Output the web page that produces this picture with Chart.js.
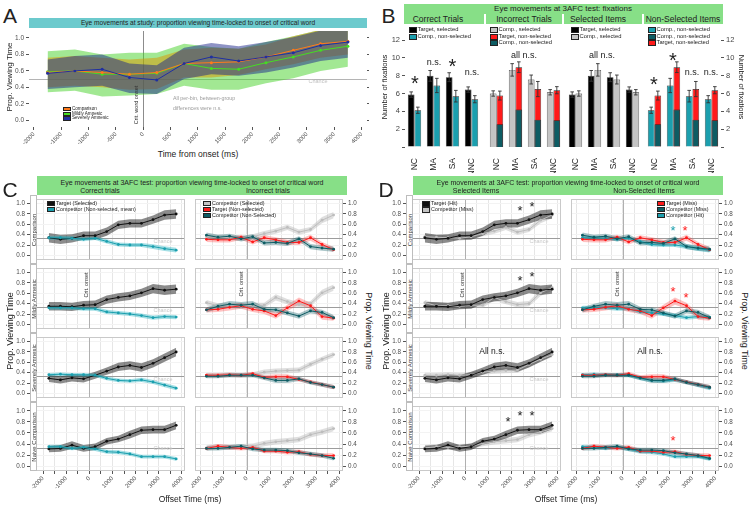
<!DOCTYPE html>
<html>
<head>
<meta charset="utf-8">
<title>Eye movements</title>
<script src="https://cdn.jsdelivr.net/npm/chart.js@4.4.1/dist/chart.umd.min.js"></script>
<style>
  html, body { margin: 0; padding: 0; background: #fff; }
  #fig { position: relative; width: 750px; height: 508px; overflow: hidden;
         font-family: "Liberation Sans", Arial, sans-serif; color: #222; }
  #fig canvas { position: absolute; }
  .t { position: absolute; white-space: nowrap; line-height: 1; }
  .box { position: absolute; }
  .lg { position: absolute; line-height: 1; color: #222; white-space: nowrap; }
  .lg .sw { position: absolute; box-sizing: border-box; border: 0.7px solid #222; }
  .lg .tx { position: absolute; }
</style>
</head>
<body>
<div id="fig"></div>
<script>
// ---------- data ----------
const TIME = [-1750, -1250, -750, -250, 250, 750, 1250, 1750, 2250, 2750, 3250, 3750];
const TIME_TICKS = [-2000, -1500, -1000, -500, 0, 500, 1000, 1500, 2000, 2500, 3000, 3500, 4000];
const PROP_TICKS = [0, 0.2, 0.4, 0.6, 0.8, 1.0];
const FIX_TICKS = [0, 2, 4, 6, 8, 10, 12];
const GROUPS = ['NC', 'MA', 'SA', 'NNC'];
const ROWS = ['Comparison', 'Mildly Amnesic', 'Severely Amnesic', 'Naive Comparison'];

// A: study phase (mean and ribbon limits)
const studyComparison   = [0.58, 0.60, 0.58, 0.56, 0.58, 0.69, 0.70, 0.71, 0.77, 0.85, 0.93, 0.96];
const studyComparisonLo = [0.40, 0.42, 0.40, 0.37, 0.38, 0.52, 0.52, 0.55, 0.62, 0.68, 0.76, 0.80];
const studyComparisonHi = [0.76, 0.78, 0.76, 0.74, 0.76, 0.86, 0.88, 0.87, 0.92, 1.02, 1.10, 1.12];
const studyMild   = [0.59, 0.60, 0.56, 0.56, 0.57, 0.69, 0.63, 0.62, 0.70, 0.77, 0.85, 0.90];
const studyMildLo = [0.34, 0.36, 0.29, 0.30, 0.32, 0.42, 0.37, 0.37, 0.45, 0.51, 0.60, 0.65];
const studyMildHi = [0.84, 0.86, 0.80, 0.82, 0.82, 0.93, 0.89, 0.87, 0.95, 1.02, 1.10, 1.15];
const studySevere   = [0.57, 0.60, 0.62, 0.52, 0.49, 0.69, 0.77, 0.72, 0.77, 0.82, 0.91, 0.95];
const studySevereLo = [0.38, 0.40, 0.42, 0.33, 0.32, 0.50, 0.56, 0.54, 0.58, 0.64, 0.72, 0.76];
const studySevereHi = [0.74, 0.78, 0.80, 0.69, 0.67, 0.88, 0.94, 0.90, 0.95, 1.01, 1.09, 1.13];

// B: number of fixations (NC, MA, SA, NNC)
const targetSelectedFix = [5.88, 7.98, 7.83, 6.44];
const targetSelectedErr = [0.30, 0.60, 0.50, 0.30];
const compNonSelectedMeanFix = [4.12, 6.90, 5.70, 5.36];
const compNonSelectedMeanErr = [0.35, 0.80, 0.65, 0.40];
const compSelectedFix = [6.00, 8.65, 7.57, 6.14];
const compSelectedErr = [0.30, 0.70, 0.50, 0.30];
const targetNonSelectedFix = [5.77, 8.95, 6.50, 6.37];
const targetNonSelectedErr = [0.50, 0.60, 0.85, 0.40];
const compNonSelectedFix = [2.55, 4.20, 3.07, 3.00];

// C / D: proportion viewing time, one list per row (Comparison, Mildly, Severely, Naive)
const targetSelected = [
  [0.34, 0.31, 0.33, 0.38, 0.38, 0.46, 0.59, 0.62, 0.62, 0.69, 0.78, 0.80],
  [0.35, 0.35, 0.34, 0.37, 0.38, 0.48, 0.52, 0.55, 0.61, 0.69, 0.66, 0.68],
  [0.29, 0.26, 0.30, 0.28, 0.35, 0.43, 0.51, 0.54, 0.50, 0.58, 0.69, 0.80],
  [0.31, 0.32, 0.38, 0.32, 0.35, 0.45, 0.49, 0.57, 0.65, 0.66, 0.66, 0.74]
];
const targetSelectedSe = [
  [0.09, 0.09, 0.08, 0.08, 0.08, 0.08, 0.08, 0.08, 0.08, 0.08, 0.09, 0.09],
  [0.08, 0.08, 0.08, 0.08, 0.08, 0.08, 0.08, 0.08, 0.08, 0.09, 0.09, 0.09],
  [0.07, 0.07, 0.07, 0.07, 0.07, 0.07, 0.08, 0.08, 0.08, 0.08, 0.08, 0.08],
  [0.06, 0.06, 0.07, 0.06, 0.06, 0.06, 0.06, 0.07, 0.07, 0.07, 0.07, 0.07]
];
const compNonSelectedMean = [
  [0.34, 0.34, 0.33, 0.31, 0.33, 0.27, 0.21, 0.20, 0.20, 0.17, 0.13, 0.10],
  [0.32, 0.32, 0.32, 0.30, 0.30, 0.24, 0.22, 0.20, 0.17, 0.13, 0.15, 0.14],
  [0.36, 0.37, 0.36, 0.36, 0.35, 0.29, 0.25, 0.24, 0.26, 0.22, 0.16, 0.10],
  [0.35, 0.35, 0.32, 0.34, 0.31, 0.26, 0.25, 0.22, 0.17, 0.17, 0.17, 0.13]
];
const compNonSelectedMeanSe = [
  [0.04, 0.04, 0.04, 0.035, 0.035, 0.04, 0.04, 0.04, 0.04, 0.045, 0.045, 0.045],
  [0.04, 0.04, 0.04, 0.035, 0.035, 0.04, 0.04, 0.04, 0.04, 0.04, 0.04, 0.04],
  [0.035, 0.035, 0.035, 0.035, 0.035, 0.035, 0.035, 0.035, 0.04, 0.04, 0.04, 0.04],
  [0.035, 0.035, 0.035, 0.035, 0.035, 0.035, 0.035, 0.035, 0.035, 0.035, 0.035, 0.035]
];
const compSelected = [
  [0.36, 0.35, 0.34, 0.33, 0.36, 0.42, 0.47, 0.54, 0.45, 0.50, 0.68, 0.78],
  [0.42, 0.36, 0.36, 0.35, 0.37, 0.37, 0.52, 0.44, 0.38, 0.40, 0.61, 0.71],
  [0.35, 0.35, 0.36, 0.35, 0.36, 0.41, 0.43, 0.44, 0.45, 0.56, 0.66, 0.75],
  [0.33, 0.35, 0.34, 0.35, 0.36, 0.41, 0.44, 0.46, 0.48, 0.57, 0.62, 0.68]
];
const compSelectedSe = [
  [0.05, 0.05, 0.05, 0.05, 0.05, 0.05, 0.05, 0.05, 0.05, 0.05, 0.06, 0.06],
  [0.05, 0.05, 0.05, 0.05, 0.05, 0.05, 0.06, 0.05, 0.05, 0.05, 0.06, 0.06],
  [0.05, 0.05, 0.05, 0.05, 0.05, 0.05, 0.05, 0.05, 0.05, 0.05, 0.05, 0.05],
  [0.05, 0.05, 0.05, 0.05, 0.05, 0.05, 0.05, 0.05, 0.05, 0.05, 0.05, 0.05]
];
const targetNonSelected = [
  [0.31, 0.30, 0.30, 0.35, 0.26, 0.34, 0.30, 0.25, 0.25, 0.34, 0.21, 0.11],
  [0.28, 0.29, 0.33, 0.36, 0.29, 0.26, 0.17, 0.32, 0.45, 0.36, 0.15, 0.12],
  [0.35, 0.35, 0.36, 0.35, 0.38, 0.31, 0.32, 0.32, 0.27, 0.22, 0.17, 0.12],
  [0.32, 0.36, 0.34, 0.32, 0.34, 0.27, 0.27, 0.25, 0.26, 0.21, 0.19, 0.19]
];
const targetNonSelectedSe = [
  [0.05, 0.05, 0.05, 0.05, 0.05, 0.05, 0.05, 0.05, 0.05, 0.06, 0.05, 0.05],
  [0.05, 0.05, 0.06, 0.06, 0.05, 0.06, 0.06, 0.06, 0.07, 0.06, 0.06, 0.05],
  [0.04, 0.04, 0.04, 0.04, 0.04, 0.04, 0.05, 0.05, 0.04, 0.04, 0.04, 0.04],
  [0.04, 0.04, 0.04, 0.04, 0.04, 0.04, 0.04, 0.04, 0.04, 0.04, 0.04, 0.04]
];
const compNonSelected = [
  [0.39, 0.35, 0.37, 0.32, 0.36, 0.24, 0.25, 0.23, 0.32, 0.17, 0.14, 0.12],
  [0.28, 0.35, 0.39, 0.37, 0.39, 0.29, 0.28, 0.22, 0.16, 0.26, 0.23, 0.13],
  [0.33, 0.33, 0.35, 0.35, 0.35, 0.30, 0.25, 0.25, 0.28, 0.21, 0.17, 0.12],
  [0.32, 0.32, 0.34, 0.36, 0.31, 0.29, 0.29, 0.28, 0.24, 0.22, 0.19, 0.14]
];
const compNonSelectedSe = [
  [0.05, 0.05, 0.05, 0.05, 0.05, 0.05, 0.05, 0.05, 0.05, 0.05, 0.05, 0.05],
  [0.05, 0.05, 0.06, 0.06, 0.06, 0.05, 0.05, 0.05, 0.05, 0.05, 0.05, 0.05],
  [0.04, 0.04, 0.04, 0.04, 0.04, 0.04, 0.05, 0.05, 0.04, 0.04, 0.04, 0.04],
  [0.04, 0.04, 0.04, 0.04, 0.04, 0.04, 0.04, 0.04, 0.04, 0.04, 0.04, 0.04]
];

// ---------- setup ----------
Chart.defaults.font.family = '"Liberation Sans", Arial, sans-serif';
Chart.defaults.color = '#4d4d4d';

const fig = document.getElementById('fig');
const pts = arr => arr.map((v, i) => ({x: TIME[i], y: v}));

// reference lines (chance, onset) and panel frame, placed via the chart scales
const refLines = {
  id: 'refLines',
  beforeDatasetsDraw(chart, args, o) {
    const {ctx, chartArea: a, scales} = chart;
    ctx.save();
    ctx.beginPath();
    ctx.rect(a.left, a.top, a.width, a.height);
    ctx.clip();
    ctx.lineWidth = 1;
    (o.v || []).forEach(l => {
      const x = Math.round(scales.x.getPixelForValue(l.at)) + 0.5;
      ctx.strokeStyle = l.c;
      ctx.beginPath(); ctx.moveTo(x, a.top); ctx.lineTo(x, a.bottom); ctx.stroke();
    });
    (o.h || []).forEach(l => {
      const y = Math.round(scales.y.getPixelForValue(l.at)) + 0.5;
      ctx.strokeStyle = l.c;
      ctx.beginPath(); ctx.moveTo(a.left, y); ctx.lineTo(a.right, y); ctx.stroke();
    });
    if (o.frame) {
      ctx.strokeStyle = o.frame;
      ctx.strokeRect(a.left + 0.5, a.top + 0.5, a.width - 1, a.height - 1);
    }
    ctx.restore();
  }
};

// error bars for the fixation bars
const errBars = {
  id: 'errBars',
  afterDatasetsDraw(chart) {
    const {ctx} = chart;
    const y = chart.scales.y;
    ctx.save();
    ctx.strokeStyle = '#333';
    ctx.lineWidth = 0.9;
    chart.data.datasets.forEach((ds, i) => {
      if (!ds.err) return;
      chart.getDatasetMeta(i).data.forEach((bar, j) => {
        const v = ds.data[j];
        const y1 = y.getPixelForValue(v - ds.err[j]);
        const y2 = y.getPixelForValue(v + ds.err[j]);
        ctx.beginPath();
        ctx.moveTo(bar.x, y1); ctx.lineTo(bar.x, y2);
        ctx.moveTo(bar.x - 1.8, y1); ctx.lineTo(bar.x + 1.8, y1);
        ctx.moveTo(bar.x - 1.8, y2); ctx.lineTo(bar.x + 1.8, y2);
        ctx.stroke();
      });
    });
    ctx.restore();
  }
};
Chart.register(refLines, errBars);

function makeChart(area, m, config) {
  const c = document.createElement('canvas');
  const w = Math.round(area.w + m.l + m.r), h = Math.round(area.h + m.t + m.b);
  c.width = w; c.height = h;
  c.style.left = (area.x - m.l) + 'px';
  c.style.top = (area.y - m.t) + 'px';
  c.style.width = w + 'px'; c.style.height = h + 'px';
  fig.appendChild(c);
  const opts = config.options;
  const pad = {left: m.l, right: m.r, top: m.t, bottom: m.b};
  Object.values(opts.scales).forEach(sc => {
    if (sc.display === false) return;
    const side = sc.position;
    pad[side] = 0;
    const size = m[side[0]];
    sc.afterFit = s => {
      if (side === 'bottom') s.height = size; else s.width = size;
      s.paddingLeft = s.paddingRight = s.paddingTop = s.paddingBottom = 0;
    };
  });
  Object.assign(opts, {responsive: false, devicePixelRatio: 1, animation: false, layout: {padding: pad}});
  opts.plugins = Object.assign({legend: {display: false}, tooltip: {enabled: false}}, opts.plugins);
  return new Chart(c, config);
}

function bandChart(area, m, series, o) {
  const datasets = [];
  series.forEach((s, k) => {
    const lo = s.lo || s.mean.map((v, i) => v - s.se[i]);
    const hi = s.hi || s.mean.map((v, i) => v + s.se[i]);
    datasets.push({data: pts(lo), borderWidth: 0, borderColor: 'transparent', pointRadius: 0, fill: false, order: 100 - k});
    datasets.push({data: pts(hi), borderWidth: 0, borderColor: 'transparent', pointRadius: 0, fill: '-1', backgroundColor: s.band, order: 100 - k});
    datasets.push({data: pts(s.mean), borderColor: s.line, borderWidth: 1, pointRadius: o.pr, pointBackgroundColor: s.line,
                   pointBorderWidth: 0, fill: false, order: 50 - k});
  });
  const tickMark = {drawTicks: true, tickLength: 3, tickColor: '#555'};
  const scales = {
    x: {type: 'linear', position: 'bottom', min: o.xmin, max: o.xmax,
        afterBuildTicks: s => { s.ticks = TIME_TICKS.map(v => ({value: v})); },
        ticks: {display: o.xLabels, autoSkip: false, minRotation: 45, maxRotation: 45, padding: 1,
                font: {size: o.xFont}, callback: o.xCb},
        grid: Object.assign({color: o.xGrid || '#fff', drawOnChartArea: !!o.xGrid}, tickMark, {drawTicks: o.xLabels}),
        border: {display: false}},
    y: {type: 'linear', position: o.ySide, min: o.ymin, max: o.ymax,
        afterBuildTicks: s => { s.ticks = PROP_TICKS.map(v => ({value: v})); },
        ticks: {font: {size: o.yFont}, padding: 2, callback: v => v.toFixed(1)},
        grid: Object.assign({color: o.yGrid || '#fff', drawOnChartArea: !!o.yGrid}, tickMark),
        border: {display: false}}
  };
  if (o.yRight) {
    scales.yR = {type: 'linear', position: 'right', min: o.ymin, max: o.ymax,
                 afterBuildTicks: s => { s.ticks = PROP_TICKS.map(v => ({value: v})); },
                 ticks: {display: false}, grid: Object.assign({drawOnChartArea: false}, tickMark, {tickLength: 2}),
                 border: {display: false}};
  }
  return makeChart(area, m, {type: 'line', data: {datasets},
    options: {scales, plugins: {refLines: o.ref}}});
}

function fixChart(area, m, datasets, side) {
  const scales = {
    x: {position: 'bottom', stacked: true, grid: {display: false}, border: {display: false},
        ticks: {minRotation: 90, maxRotation: 90, padding: 3, color: '#222', font: {size: 8.5}}},
    y: {position: side || 'left', display: !!side, stacked: false, min: 0, max: 13.46,
        afterBuildTicks: s => { s.ticks = FIX_TICKS.map(v => ({value: v})); },
        ticks: {padding: 2, color: '#444', font: {size: 7.5}, callback: v => (v === 0 ? '' : String(v))},
        grid: {drawOnChartArea: false, drawTicks: true, tickLength: 3, tickColor: '#555'},
        border: {display: false}}
  };
  datasets.forEach(d => Object.assign(d, {barPercentage: 1, categoryPercentage: 0.7, borderColor: '#222', borderWidth: 0.7}));
  return makeChart(area, m, {type: 'bar', data: {labels: GROUPS, datasets}, options: {scales}});
}

// ---------- HTML text helpers ----------
function label(x, y, s, size, o = {}) {
  const d = document.createElement('div');
  d.className = 't';
  d.textContent = s;
  d.style.left = x + 'px';
  d.style.top = y + 'px';
  d.style.fontSize = size + 'px';
  if (o.color) d.style.color = o.color;
  const tx = o.left ? '0' : '-50%';
  d.style.transform = `translate(${tx},-50%)` + (o.rot ? ` rotate(${o.rot}deg)` : '');
  fig.appendChild(d);
  return d;
}
function star(x, y, size, color) { return label(x, y + size * 0.22, '*', size, {color}); }
function box(x, y, w, h, bg, extra) {
  const d = document.createElement('div');
  d.className = 'box';
  d.style.cssText = `left:${x}px;top:${y}px;width:${w}px;height:${h}px;background:${bg};` + (extra || '');
  fig.appendChild(d);
  return d;
}
function legend(x, y, items, o) {
  const d = document.createElement('div');
  d.className = 'lg';
  d.style.left = x + 'px';
  d.style.top = y + 'px';
  d.style.fontSize = o.size + 'px';
  if (o.bg) { d.style.background = o.bg; d.style.width = o.w + 'px'; d.style.height = o.h + 'px'; }
  const sx = o.sx || 0, sy = o.sy || 0;
  items.forEach(([color, text], i) => {
    const sw = document.createElement('span');
    sw.className = 'sw';
    sw.style.cssText = `left:${sx}px;top:${sy + i * o.pitch}px;width:${o.sw}px;height:${o.sh}px;background:${color}`;
    const tx = document.createElement('span');
    tx.className = 'tx';
    tx.textContent = text;
    tx.style.cssText = `left:${sx + o.sw + 1}px;top:${sy + i * o.pitch + (o.sh - o.size) / 2}px`;
    d.append(sw, tx);
  });
  fig.appendChild(d);
}

// ---------- colours ----------
const C_BLACK = '#111111', C_TEAL = '#1b9fae', C_DTEAL = '#0d5c63', C_RED = '#ff1a1a', C_GREY = '#c4c4c4';
const TITLE_GREEN = '#87df87';

// ---------- panel A ----------
bandChart({x: 29, y: 27, w: 338, h: 100}, {l: 18, r: 6, t: 0, b: 20}, [
  {mean: studyMild, lo: studyMildLo, hi: studyMildHi, line: '#44dd22', band: 'rgba(70,210,40,0.5)'},
  {mean: studyComparison, lo: studyComparisonLo, hi: studyComparisonHi, line: '#ff7a1a', band: 'rgba(220,150,0,0.5)'},
  {mean: studySevere, lo: studySevereLo, hi: studySevereHi, line: '#1f2fa0', band: 'rgba(30,40,140,0.5)'}
], {xmin: -2090, xmax: 4100, ymin: -0.082, ymax: 1.085, xLabels: true, xCb: v => String(v), xFont: 5.8,
    ySide: 'left', yFont: 6.5, yRight: true, pr: 1.5,
    ref: {v: [{at: 0, c: '#8c8c8c'}], h: [{at: 0.5, c: '#b4b4b4'}]}});

// ---------- panel B ----------
const B_TOP = 27, B_H = 120, B_M = {t: 0, b: 26};
fixChart({x: 405, y: B_TOP, w: 76, h: B_H}, Object.assign({l: 20, r: 0}, B_M), [
  {data: targetSelectedFix, err: targetSelectedErr, backgroundColor: '#000', stack: 'L'},
  {data: compNonSelectedMeanFix, err: compNonSelectedMeanErr, backgroundColor: C_TEAL, stack: 'R'}
], 'left');
fixChart({x: 487, y: B_TOP, w: 76, h: B_H}, Object.assign({l: 0, r: 0}, B_M), [
  {data: compSelectedFix, err: compSelectedErr, backgroundColor: C_GREY, stack: 'L'},
  {data: compNonSelectedFix, backgroundColor: C_DTEAL, stack: 'R', order: 0},
  {data: targetNonSelectedFix, err: targetNonSelectedErr, backgroundColor: C_RED, stack: 'R', order: 1}
], null);
fixChart({x: 566, y: B_TOP, w: 76, h: B_H}, Object.assign({l: 0, r: 0}, B_M), [
  {data: targetSelectedFix, err: targetSelectedErr, backgroundColor: '#000', stack: 'L'},
  {data: compSelectedFix, err: compSelectedErr, backgroundColor: C_GREY, stack: 'R'}
], null);
fixChart({x: 645, y: B_TOP, w: 76, h: B_H}, Object.assign({l: 0, r: 18}, B_M), [
  {data: compNonSelectedMeanFix, err: compNonSelectedMeanErr, backgroundColor: C_TEAL, stack: 'L'},
  {data: compNonSelectedFix, backgroundColor: C_DTEAL, stack: 'R', order: 0},
  {data: targetNonSelectedFix, err: targetNonSelectedErr, backgroundColor: C_RED, stack: 'R', order: 1}
], 'right');

// ---------- panels C and D ----------
const ROW_TOP = [195, 264, 333, 402], ROW_H = 69, P_MIN = -0.09, P_MAX = 1.09;
const COLS = [
  {x: 30, w: 159, xmin: -2564, xmax: 4131, side: 'left'},
  {x: 191, w: 152, xmin: -2244, xmax: 4156, side: 'right'}
];
const SER = {
  target:    {mean: targetSelected, se: targetSelectedSe, line: C_BLACK, band: 'rgba(0,0,0,0.45)'},
  compMean:  {mean: compNonSelectedMean, se: compNonSelectedMeanSe, line: C_TEAL, band: 'rgba(27,175,190,0.4)'},
  compSel:   {mean: compSelected, se: compSelectedSe, line: '#bdbdbd', band: 'rgba(185,185,185,0.45)'},
  targetNon: {mean: targetNonSelected, se: targetNonSelectedSe, line: C_RED, band: 'rgba(255,50,50,0.3)'},
  compNon:   {mean: compNonSelected, se: compNonSelectedSe, line: C_DTEAL, band: 'rgba(13,92,99,0.35)'}
};

function trialGrid(dx, colSeries) {
  ROWS.forEach((row, r) => {
    COLS.forEach((col, ci) => {
      const last = r === ROWS.length - 1;
      const area = {x: col.x + dx, y: ROW_TOP[r], w: col.w, h: ROW_H};
      const m = {l: ci === 0 ? 20 : 0, r: ci === 1 ? 18 : 0, t: 0, b: last ? 27 : 0};
      const series = colSeries[ci].map(s => ({mean: s.mean[r], se: s.se[r], line: s.line, band: s.band}));
      bandChart(area, m, series, {
        xmin: col.xmin, xmax: col.xmax, ymin: P_MIN, ymax: P_MAX,
        xLabels: last, xCb: v => (v % 1000 === 0 ? String(v) : ''), xFont: 6, xGrid: '#e6e6e6',
        ySide: col.side, yFont: 6.3, yGrid: '#f3f3f3', pr: 1.4,
        ref: {v: [{at: 0, c: '#b0b0b0'}], h: [{at: 1 / 3, c: '#9c9c9c'}], frame: '#c9c9c9'}
      });
    });
  });
}
trialGrid(0, [[SER.target, SER.compMean], [SER.compSel, SER.targetNon, SER.compNon]]);
trialGrid(376, [[SER.compSel, SER.target], [SER.compMean, SER.targetNon, SER.compNon]]);

// ---------- text: panel A ----------
label(10, 14.5, 'A', 21);
box(29, 18, 338, 9.5, '#6ccacd');
label(198, 22.8, 'Eye movements at study: proportion viewing time-locked to onset of critical word', 6.6);
label(10, 77, 'Prop. Viewing Time', 8, {rot: -90});
label(198, 154, 'Time from onset (ms)', 8.5);
label(137, 105, 'Crit. word onset', 5.5, {rot: -90, color: '#333'});
label(318, 81.5, 'Chance', 5.5, {color: '#c0c0c0'});
label(173, 99, 'All per-bin, between-group', 5.3, {left: true, color: '#9a9a9a'});
label(173, 108.5, 'differences were n.s.', 5.3, {left: true, color: '#9a9a9a'});
legend(62, 106.5, [['#ff7a1a', 'Comparison'], ['#44dd22', 'Mildly Amnesic'], ['#1f2fa0', 'Severely Amnesic']],
       {size: 4.6, pitch: 4.8, sw: 8, sh: 4.4, sx: 1, sy: 0.3, bg: '#fff', w: 50, h: 14.5});

// ---------- text: panel B ----------
label(388.5, 14.5, 'B', 21);
box(404, 4, 319, 20, TITLE_GREEN);
[485, 563, 643].forEach(x => box(x - 1, 13.5, 2, 10.5, '#fff'));
label(563, 8.5, 'Eye movements at 3AFC test: fixations', 8);
[['Correct Trials', 438], ['Incorrect Trials', 524], ['Selected Items', 598], ['Non-Selected Items', 683]]
  .forEach(([s, x]) => label(x, 18.7, s, 8.5));
const LG_B = {size: 5.8, pitch: 6.3, sw: 7.5, sh: 6};
legend(409, 27.3, [['#000', 'Target, selected'], [C_TEAL, 'Comp., non-selected']], LG_B);
legend(490, 27.3, [[C_GREY, 'Comp., selected'], [C_RED, 'Target, non-selected'], [C_DTEAL, 'Comp., non-selected']], LG_B);
legend(571, 27.3, [['#000', 'Target, selected'], [C_GREY, 'Comp., selected']], LG_B);
legend(648, 27.3, [[C_TEAL, 'Comp., non-selected'], [C_DTEAL, 'Comp., non-selected'], [C_RED, 'Target, non-selected']], LG_B);
label(385, 87, 'Number of fixations', 7.5, {rot: -90});
label(741, 87, 'Number of fixations', 7.5, {rot: 90});
star(415, 79, 20); label(434, 62, 'n.s.', 9); star(452.5, 62, 20); label(472, 72, 'n.s.', 9);
label(524, 55, 'all n.s.', 9); label(602, 55, 'all n.s.', 9);
star(654, 80, 20); star(673, 56, 20); label(692, 72, 'n.s.', 9); label(711, 72, 'n.s.', 9);

// ---------- text: panels C and D ----------
function gridText(dx, letter, sub, chanceX) {
  label(dx + 10, 188.5, letter, 21);
  box(dx + 37, 176, 310, 19, TITLE_GREEN);
  label(dx + 192, 181.5, 'Eye movements at 3AFC test: proportion viewing time-locked to onset of critical word', 7);
  label(dx + 100, 190.3, sub[0], 7);
  label(dx + 268, 190.3, sub[1], 7);
  ROWS.forEach((row, r) => {
    const b = box(dx + 30, ROW_TOP[r], 7, ROW_H, '#fff', 'box-sizing:border-box;border:0.7px solid #bdbdbd;');
    label(dx + 33.5, ROW_TOP[r] + ROW_H / 2, row, 6, {rot: -90, color: '#333'});
    const chanceY = ROW_TOP[r] + (P_MAX - 1 / 3) / (P_MAX - P_MIN) * ROW_H;
    label(dx + chanceX, chanceY + 3.2, 'Chance', 5.5, {color: '#c8c8c8'});
  });
  label(dx + 87, 285, 'Crit. onset', 5.5, {rot: -90, color: '#333'});
  label(dx + 242, 284, 'Crit. onset', 5.5, {rot: -90, color: '#333'});
  label(dx + 9.5, 331, 'Prop. Viewing Time', 9, {rot: -90});
  label(dx + 368, 331, 'Prop. Viewing Time', 9, {rot: 90});
  label(dx + 190, 499, 'Offset Time (ms)', 8.5);
}
gridText(0, 'C', ['Correct trials', 'Incorrect trials'], 163);
gridText(376, 'D', ['Selected Items', 'Non-Selected Items'], 163);

const LG_C = {size: 5.4, pitch: 6.1, sw: 8, sh: 5.6};
legend(47, 200.5, [[C_BLACK, 'Target (Selected)'], [C_TEAL, 'Competitor (Non-selected, mean)']], LG_C);
legend(203, 200.5, [[C_GREY, 'Competitor (Selected)'], [C_RED, 'Target (Non-selected)'], [C_DTEAL, 'Competitor (Non-Selected)']], LG_C);
legend(422, 201, [[C_BLACK, 'Target (Hit)'], [C_GREY, 'Competitor (Miss)']], LG_C);
legend(657, 200.5, [[C_RED, 'Target (Miss)'], [C_DTEAL, 'Competitor (Miss)'], [C_TEAL, 'Competitor (Hit)']], LG_C);

// D significance marks
star(520, 207, 13); star(532, 203, 13);
star(520, 277, 13); star(532, 273, 13);
label(492, 351, 'All n.s.', 8.5);
star(508, 418, 13); star(520, 412, 13); star(532, 412, 13);
star(673, 227, 13, C_TEAL); star(685, 227, 13, C_RED);
star(673, 288, 13, C_RED); star(686, 294, 13, C_RED);
label(650, 351, 'All n.s.', 8.5);
star(673, 437, 13, C_RED);
</script>
</body>
</html>
